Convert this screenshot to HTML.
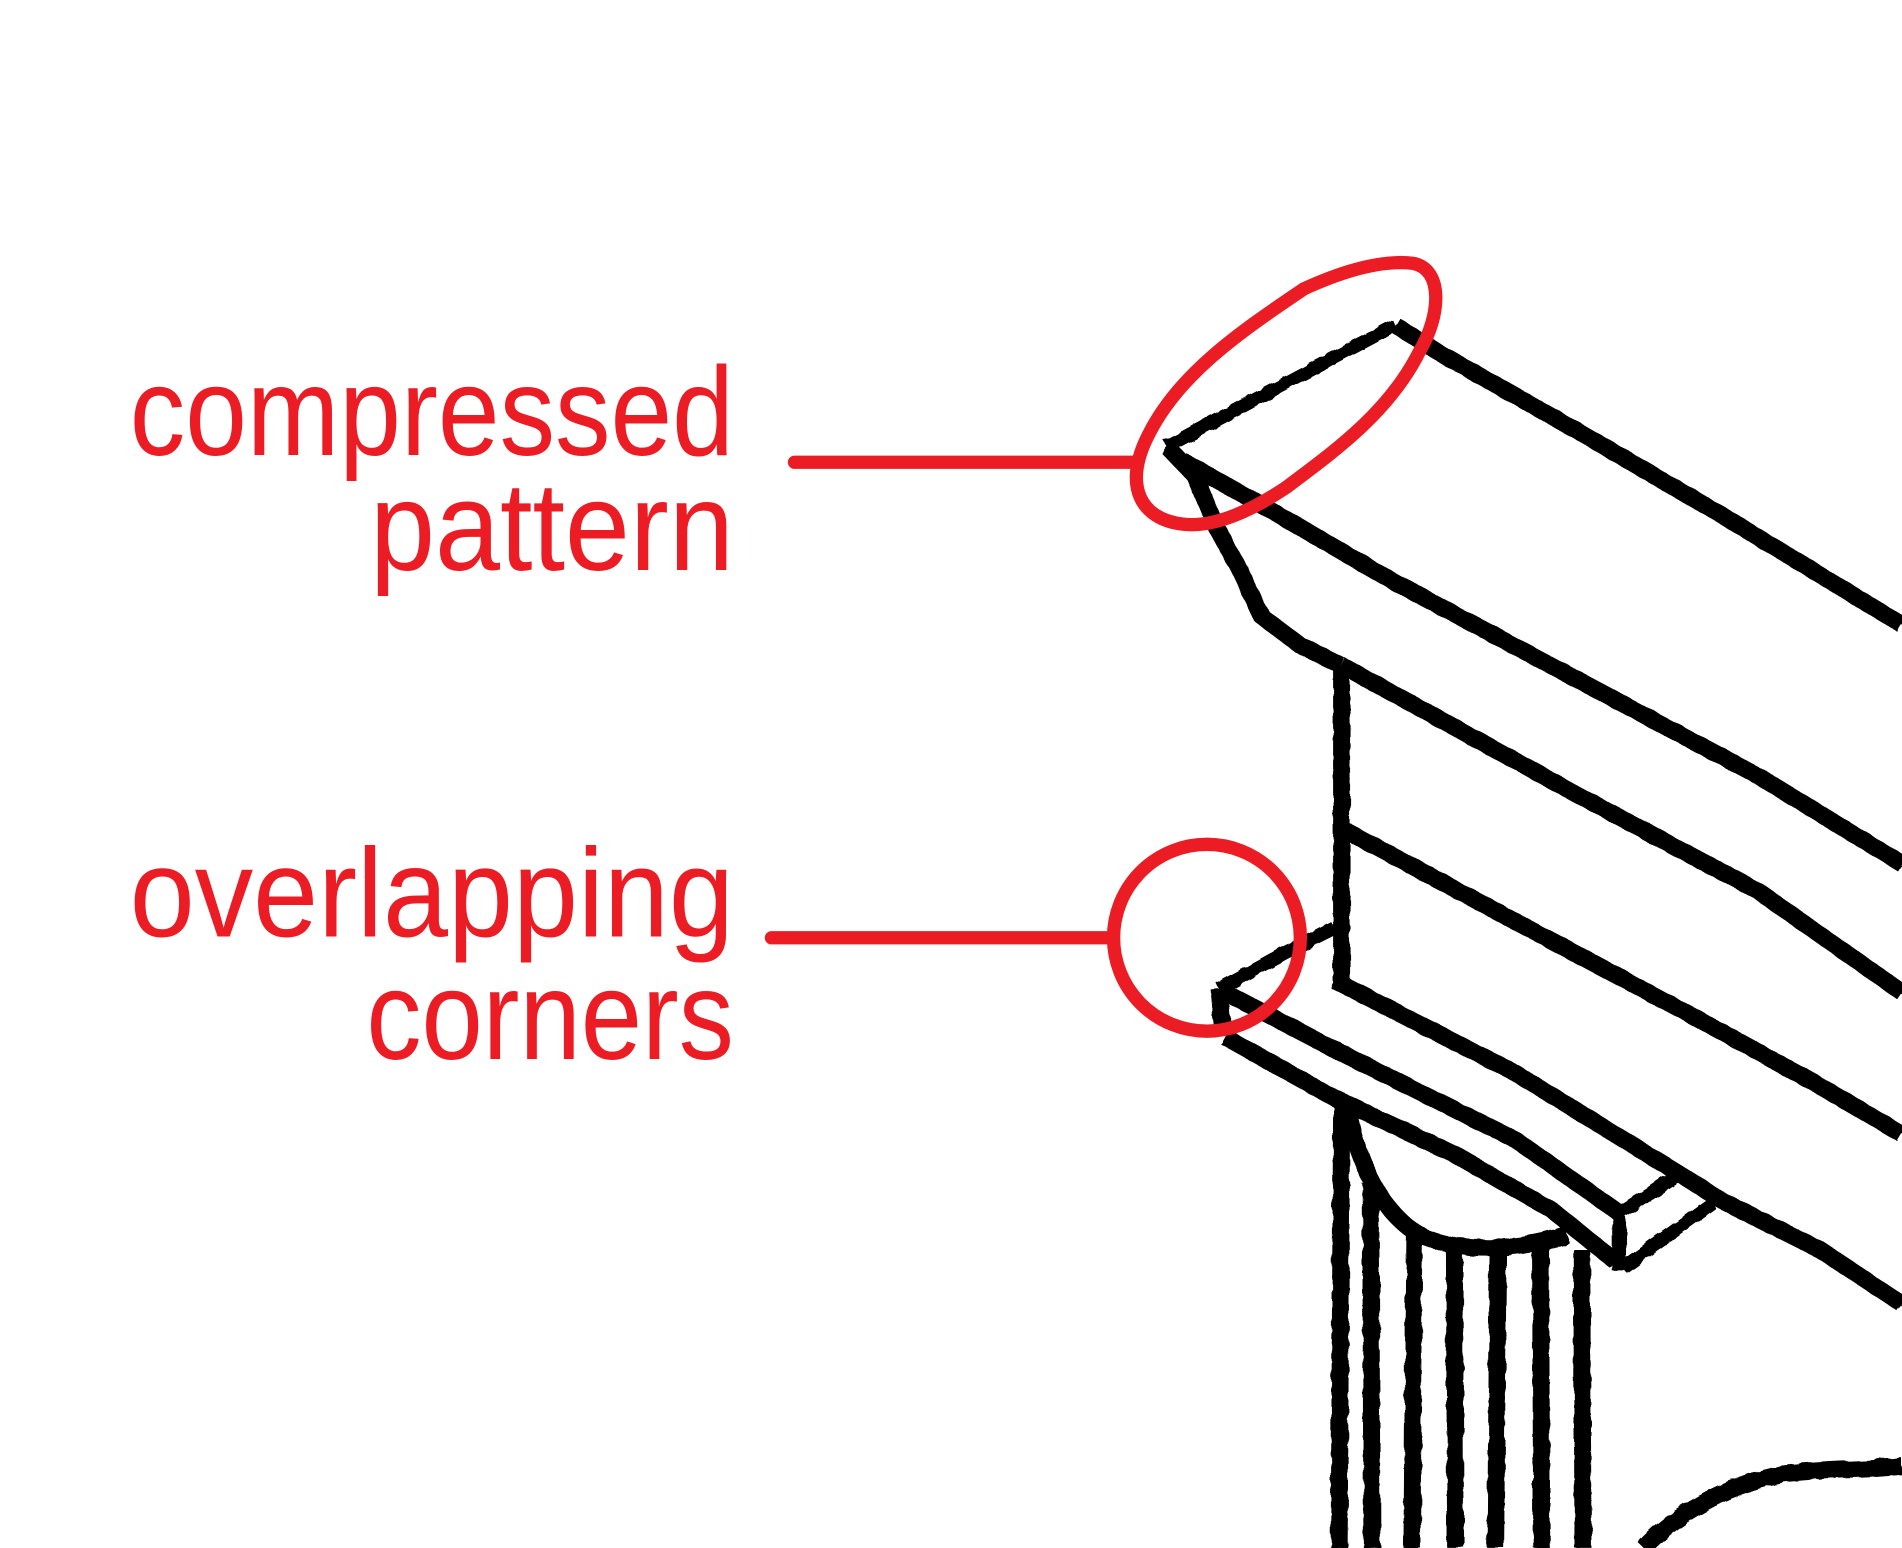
<!DOCTYPE html>
<html><head><meta charset="utf-8"><style>
html,body{margin:0;padding:0;background:#fff;}
svg{display:block;}
</style></head><body>
<svg width="1902" height="1548" viewBox="0 0 1568 1276" xmlns="http://www.w3.org/2000/svg">
<defs>
<filter id="rough" x="-5%" y="-5%" width="110%" height="110%">
<feTurbulence type="fractalNoise" baseFrequency="0.09" numOctaves="2" seed="3"/>
<feDisplacementMap in="SourceGraphic" scale="4"/>
</filter>
</defs>
<rect width="1568" height="1276" fill="#fff"/>
<g filter="url(#rough)" fill="none" stroke="#000" stroke-width="14" stroke-linejoin="round" stroke-linecap="butt">
<path d="M962,368 L1150,268" stroke-width="11"/>
<path d="M1150,268 L1185,290 L1300,355 L1420,425 L1568,515"/>
<path d="M962,368 L985,392 L1003,435 L1022,470 L1040,508 L1072,532 L1105,548"/>
<path d="M975,380 L1050,422 L1150,480 L1300,560 L1450,640 L1568,712"/>
<path d="M1105,548 L1200,600 L1300,655 L1450,735 L1568,818"/>
<path d="M1106,548 L1106,815"/>
<path d="M1110,685 L1250,760 L1400,840 L1500,895 L1568,935"/>
<path d="M1100,808 L1250,885 L1385,968 L1420,990 L1500,1030 L1568,1075"/>
<path d="M1005,815 L1060,785 L1100,765" stroke-width="11"/>
<path d="M1005,815 L1008,850"/>
<path d="M1010,818 L1100,865 L1250,940 L1335,1000"/>
<path d="M1010,855 L1100,905 L1200,952 L1280,998 L1332,1040"/>
<path d="M1385,968 L1335,1000" stroke-width="11"/>
<path d="M1335,1000 L1335,1048" stroke-width="11"/>
<path d="M1412,992 L1338,1045" stroke-width="11"/>
<path d="M1112,918 C1120,960 1140,1000 1170,1018 C1200,1032 1250,1032 1292,1018"/>
<path d="M1106,912 L1104,1276"/>
<path d="M1130,975 L1131,1276"/>
<path d="M1166,1018 L1164,1276"/>
<path d="M1199,1030 L1200,1276"/>
<path d="M1235,1032 L1233,1276"/>
<path d="M1270,1025 L1271,1276"/>
<path d="M1304,1030 L1305,1276"/>
<path d="M1355,1276 C1380,1250 1420,1225 1470,1215 C1510,1210 1540,1212 1568,1208"/>
</g>
<g fill="none" stroke="#ec1c24" stroke-linecap="round">
<path d="M655,381 L935,381" stroke-width="11"/>
<path d="M636,773 L915,773" stroke-width="11"/>
<circle cx="995" cy="773" r="77" stroke-width="11"/>
<path d="M946,360 C970,310 1020,275 1075,238 C1110,222 1140,214 1165,217 C1190,222 1188,260 1170,290 C1145,340 1100,372 1060,402 C1030,422 1000,435 975,432 C940,428 926,400 946,360 Z" stroke-width="11"/>
</g>
<g fill="#ec1c24" font-family="'Liberation Sans', sans-serif" font-size="104">
<text x="107" y="375" textLength="498" lengthAdjust="spacingAndGlyphs">compressed</text>
<text x="305" y="470" textLength="300" lengthAdjust="spacingAndGlyphs">pattern</text>
<text x="107" y="772" textLength="498" lengthAdjust="spacingAndGlyphs">overlapping</text>
<text x="302" y="873" textLength="303" lengthAdjust="spacingAndGlyphs">corners</text>
</g>
</svg>
</body></html>
